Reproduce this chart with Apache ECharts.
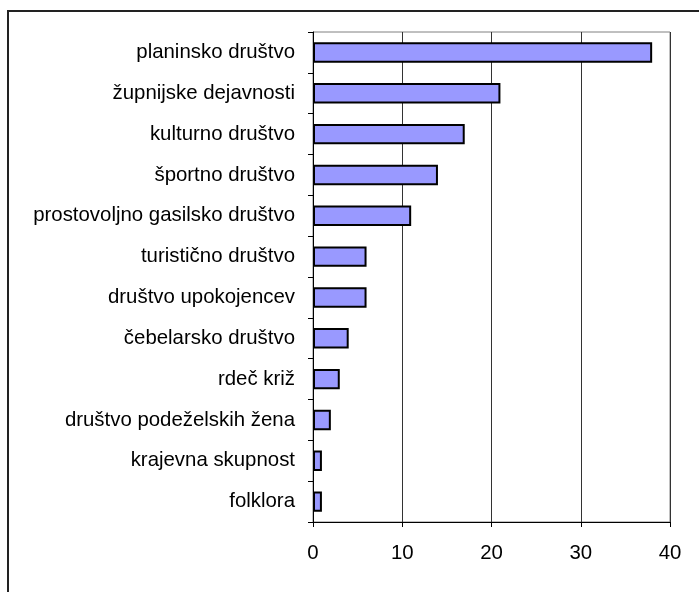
<!DOCTYPE html>
<html>
<head>
<meta charset="utf-8">
<script src="https://cdn.jsdelivr.net/npm/echarts@6/dist/echarts.min.js"></script>
<style>
html,body{margin:0;padding:0;background:#fff;}
#c{width:699px;height:592px;}
</style>
</head>
<body>
<div id="c"></div>
<script>
var categories = ["planinsko društvo","župnijske dejavnosti","kulturno društvo","športno društvo","prostovoljno gasilsko društvo","turistično društvo","društvo upokojencev","čebelarsko društvo","rdeč križ","društvo podeželskih žena","krajevna skupnost","folklora"];
var values = [38,21,17,14,11,6,6,4,3,2,1,1];
var xTicks = [0,10,20,30,40];

var chart = echarts.init(document.getElementById('c'), null, {renderer:'canvas'});
var font = 'Liberation Sans, Arial, sans-serif';
chart.setOption({
  animation:false,
  backgroundColor:'#fff',
  graphic:[{type:'rect',shape:{x:8,y:11,width:800,height:700},style:{fill:'none',stroke:'#222',lineWidth:2},z:-1}],
  grid:{left:313,top:32,right:29,bottom:70,show:true,borderColor:'#808080',borderWidth:1,backgroundColor:'transparent'},
  xAxis:{type:'value',min:xTicks[0],max:xTicks[xTicks.length-1],interval:10,
    axisLine:{show:true,lineStyle:{color:'#000',width:1}},
    axisTick:{show:true,length:5,lineStyle:{color:'#000'}},
    splitLine:{show:true,lineStyle:{color:'#333',width:1}},
    axisLabel:{color:'#000',fontSize:20.4,fontFamily:font,margin:21}},
  yAxis:{type:'category',data:categories,inverse:true,
    axisLine:{show:true,lineStyle:{color:'#000',width:1}},
    axisTick:{show:true,length:5,lineStyle:{color:'#000'}},
    axisLabel:{color:'#000',fontSize:20.4,fontFamily:font,margin:18}},
  series:[{type:'bar',data:values,barCategoryGap:'50%',
    itemStyle:{color:'#9999FF',borderColor:'#000',borderWidth:2}}]
});
</script>
</body>
</html>
